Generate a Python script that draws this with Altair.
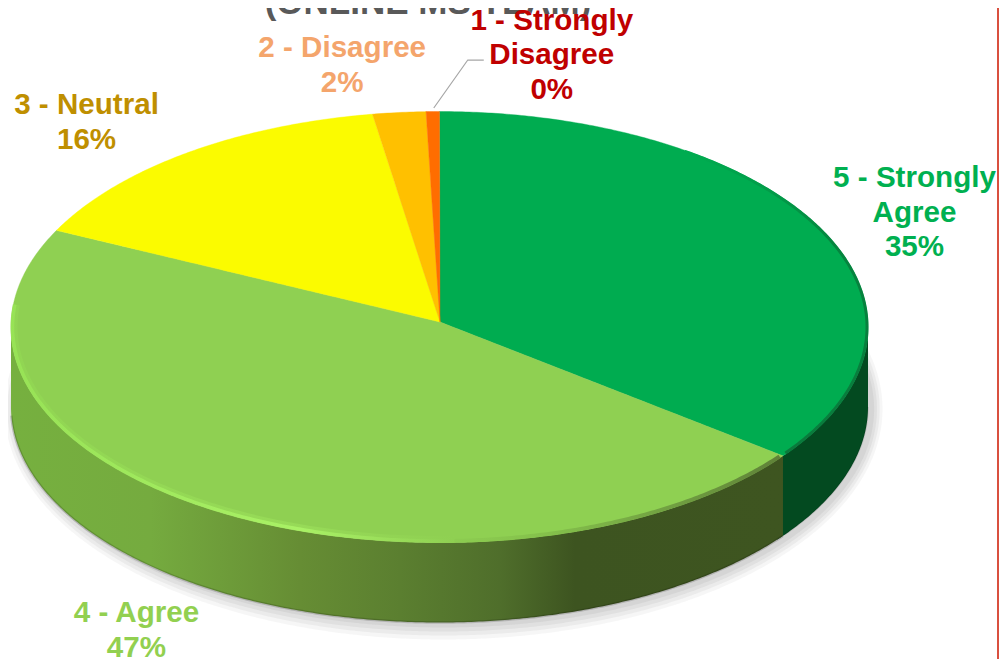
import numpy as np
import pandas as pd
import altair as alt

# ---- values
categories = ["5 - Strongly Agree", "4 - Agree", "3 - Neutral", "2 - Disagree", "1 - Strongly Disagree"]
shares = [35.2, 47.2, 15.1, 2.0, 0.5]
label_lines = [
    "5 - Strongly\nAgree\n35%",
    "4 - Agree\n47%",
    "3 - Neutral\n16%",
    "2 - Disagree\n2%",
    "1 - Strongly\nDisagree\n0%",
]
face_colors = ["#00ac50", "#8fd052", "#fbfb00", "#ffc000", "#ff6d00"]
label_colors = ["#00b050", "#92d050", "#bf8f00", "#f4a56c", "#c00000"]
title_text = "(ONLINE MS TEAM)"

# ---- geometry of the tilted pie, in page pixels
CX, CY, RX, RY = 439.5, 327.0, 428.5, 215.5
APEX = (440.0, 322.0)
DEPTH = 80.0

X = alt.Scale(domain=[8, 999], nice=False, zero=False)
Y = alt.Scale(domain=[659, 8], nice=False, zero=False)


def px(a, cy=CY, rx=RX, ry=RY, cx=CX):
    r = np.radians(a)
    return cx + rx * np.sin(r), cy - ry * np.cos(r)


def enc(chart):
    return chart.encode(
        x=alt.X("x:Q", scale=X, axis=None),
        y=alt.Y("y:Q", scale=Y, axis=None),
    )


def sector_frame(a0, a1):
    """Vertical spans of the top-face sector from angle a0 to a1."""
    ang = np.arange(a0, a1 + 0.01, 0.5)
    ang = np.append(ang, a1)
    ax, ay = px(ang)
    poly = np.column_stack([np.r_[APEX[0], ax], np.r_[APEX[1], ay]])
    xs = np.unique(np.round(poly[:, 0], 3))
    rows = []
    n = len(poly)
    for x in xs:
        hits = []
        for i in range(n):
            (x1, y1), (x2, y2) = poly[i], poly[(i + 1) % n]
            lo, hi = min(x1, x2), max(x1, x2)
            if lo - 1e-3 <= x <= hi + 1e-3:
                if abs(x2 - x1) < 1e-6:
                    hits += [y1, y2]
                else:
                    hits.append(y1 + (x - x1) / (x2 - x1) * (y2 - y1))
        if hits:
            rows.append({"x": float(x), "y": float(min(hits)), "y2": float(max(hits))})
    return pd.DataFrame(rows)


def rim_frame(a0, a1):
    ang = np.arange(a0, a1 + 0.01, 0.5)
    x, y = px(ang)
    return pd.DataFrame({"x": x, "y": y, "y2": y + DEPTH}).sort_values("x")


def arc_frame(a0, a1, cy=CY, inset=0.0):
    ang = np.arange(a0, a1 + 0.01, 0.5)
    x, y = px(ang, cy=cy, rx=RX - inset, ry=RY - inset)
    return pd.DataFrame({"x": x, "y": y, "i": np.arange(len(x))})


def grad(stops, horizontal=True):
    return alt.LinearGradient(
        gradient="linear",
        stops=[alt.GradientStop(offset=float(o), color=c) for o, c in stops],
        x1=0, x2=1 if horizontal else 0, y1=0, y2=0 if horizontal else 1,
    )


def line(df, **kw):
    return enc(alt.Chart(df).mark_line(**kw)).encode(order=alt.Order("i:Q"))


# boundaries clockwise from twelve o'clock
edges = np.r_[0, np.cumsum(shares)] * 3.6
layers = []

# soft shadow under the pie
for grow, op in [(15, 0.14), (11, 0.18), (7, 0.24), (3, 0.3)]:
    ang = np.arange(-90, 90.01, 0.5)
    x = CX + (RX + grow * 0.7) * np.sin(np.radians(ang)) + 4
    yc = np.cos(np.radians(ang)) * (RY + grow)
    shadow = pd.DataFrame({"x": x, "y": CY + DEPTH + 2 - yc, "y2": CY + DEPTH + 2 + yc})
    layers.append(
        enc(alt.Chart(shadow).mark_area(color="#bdbdbd", opacity=op)).encode(y2="y2:Q")
    )

# rim pieces
rim_green = rim_frame(90, edges[1] + 1.5)
layers.append(enc(alt.Chart(rim_green).mark_area(color="#034a20")).encode(y2="y2:Q"))
rim_agree = rim_frame(edges[1], 270)
span = rim_agree.x.max() - rim_agree.x.min()
agree_stops = [(11, "#76b03f"), (150, "#75ab3f"), (300, "#668d34"), (400, "#5b7f30"),
               (500, "#4f6e2b"), (575, "#3d5420"), (782, "#3e5520")]
agree_grad = grad([(min(1, max(0, (p - rim_agree.x.min()) / span)), c) for p, c in agree_stops])
layers.append(enc(alt.Chart(rim_agree).mark_area(color=agree_grad)).encode(y2="y2:Q"))

# darker lip along the bottom of the rim
layers.append(line(arc_frame(edges[1], 268, cy=CY + DEPTH), color="#000000", opacity=0.16, strokeWidth=2.5))
layers.append(line(arc_frame(90, edges[1], cy=CY + DEPTH), color="#000000", opacity=0.1, strokeWidth=1.5))

# top faces, drawn from the shares
for i, c in enumerate(face_colors):
    df = sector_frame(edges[i], edges[i + 1])
    layers.append(enc(alt.Chart(df).mark_area(color=c, stroke=c, strokeWidth=0.4)).encode(y2="y2:Q"))

# bevels along the rim edge of the faces
layers.append(line(arc_frame(edges[1] + 0.5, 182, inset=1.5), strokeWidth=4,
                   stroke=grad([(0, "#8fd052"), (0.35, "#84c04b"), (1, "#5f8238")])))
layers.append(line(arc_frame(178, 276, inset=3.0), strokeWidth=7, opacity=0.35,
                   stroke=grad([(0, "#95e054"), (0.65, "#a6ee62"), (1, "#8fd052")])))
layers.append(line(arc_frame(178, 276, inset=1.5), strokeWidth=3.5, opacity=0.95,
                   stroke=grad([(0, "#98e356"), (0.65, "#aaf266"), (1, "#8fd052")])))
layers.append(line(arc_frame(35, edges[1] - 0.5, inset=1.0), strokeWidth=3,
                   stroke=grad([(0, "#00ac50"), (0.3, "#05853f"), (1, "#0a7a3c")], horizontal=False)))

# leader line of the smallest slice
tip_x, tip_y = px((edges[4] + edges[5]) / 2)
leader = pd.DataFrame({"x": [tip_x + 1, tip_x + 35, tip_x + 51],
                       "y": [tip_y - 3.5, tip_y - 51.5, tip_y - 51.5], "i": [0, 1, 2]})
layers.append(line(leader, color="#a6a6a6", strokeWidth=1.2))

# boundary at the right edge of the drawing
layers.append(
    alt.Chart(pd.DataFrame({"x": [998.0]})).mark_rule(color="#d9503f", strokeWidth=2).encode(
        x=alt.X("x:Q", scale=X, axis=None))
)

# title, cut off by the top of the page
layers.append(
    alt.Chart(pd.DataFrame({"x": [428.0], "y": [14.0], "t": [title_text]}))
    .mark_text(font="Liberation Sans", fontWeight="bold", fontSize=35, color="#595959", baseline="alphabetic")
    .encode(x=alt.X("x:Q", scale=X, axis=None), y=alt.Y("y:Q", scale=Y, axis=None), text="t:N")
)

# labels: anchored to each slice's mid-angle on the rim, shifted outward
label_offsets = [(92, -52), (-78, 103), (-100, -48), (-57, -64), (119, -91)]
for i, (txt, col) in enumerate(zip(label_lines, label_colors)):
    ax, ay = px((edges[i] + edges[i + 1]) / 2)
    ox, oy = label_offsets[i]
    df = pd.DataFrame({"x": [ax], "y": [ay], "t": [txt]})
    layers.append(
        enc(alt.Chart(df).mark_text(
            font="Liberation Sans", fontWeight="bold", fontSize=29.6, color=col,
            lineBreak="\n", lineHeight=34.5, align="center", baseline="middle", dx=ox, dy=oy,
        )).encode(text="t:N")
    )

chart = (
    alt.layer(*layers)
    .properties(width=991, height=651, padding=0, background="#ffffff",
                autosize=alt.AutoSizeParams(type="none"))
    .configure_view(stroke=None)
)
chart.save("out.html", embed_options={"renderer": "svg", "actions": False})
